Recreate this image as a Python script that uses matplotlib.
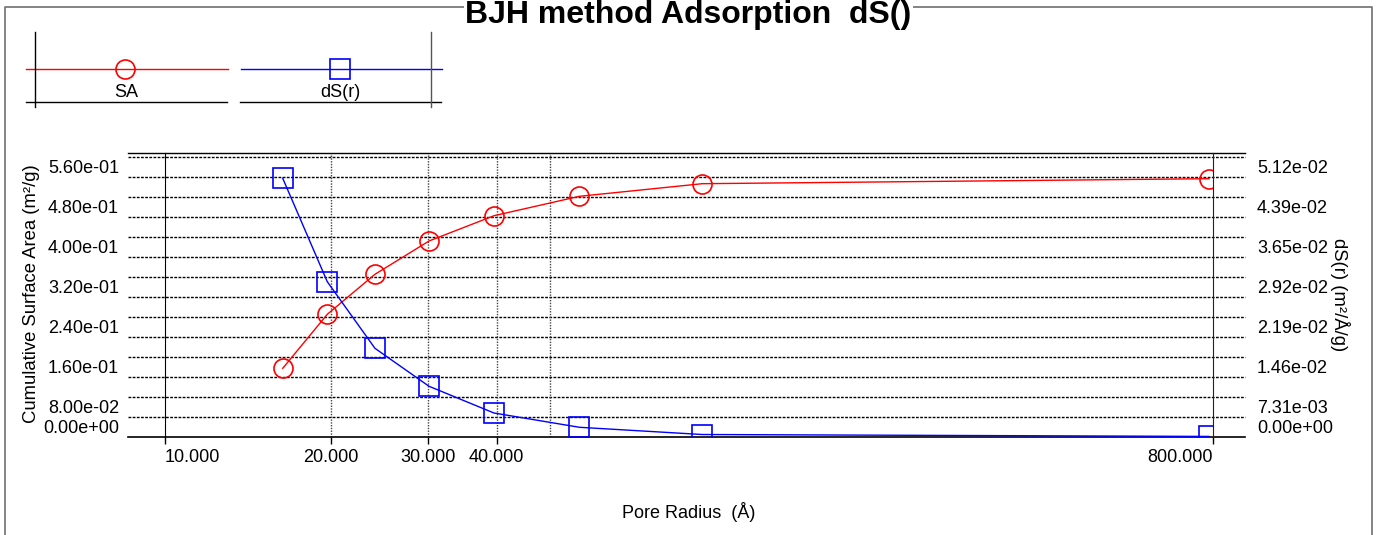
import matplotlib
matplotlib.use('Agg')
import matplotlib.pyplot as plt
from matplotlib.lines import Line2D
from matplotlib.ticker import NullLocator
from matplotlib.transforms import offset_copy

plt.rcParams['font.family'] = ['Liberation Sans', 'DejaVu Sans']

# ---------------- data ----------------
pore_radius = [16.36, 19.71, 24.06, 30.16, 39.58, 56.58, 94.52, 786.6]
cum_sa = [0.1368, 0.2448, 0.3248, 0.3914, 0.4420, 0.4808, 0.5060, 0.5160]
ds_r = [0.04725, 0.02834, 0.01616, 0.00922, 0.00433, 0.00172, 0.00040, 0.00005]

x_ticks = [10, 20, 30, 40, 800]
x_tick_labels = ['10.000', '20.000', '30.000', '40.000', '800.000']
x_grid = [20, 30, 40, 50]

left_ticks = [0.0, 0.08, 0.16, 0.24, 0.32, 0.40, 0.48, 0.56]
left_tick_labels = ['0.00e+00', '8.00e-02', '1.60e-01', '2.40e-01',
                    '3.20e-01', '4.00e-01', '4.80e-01', '5.60e-01']
right_ticks = [0.0, 0.00731, 0.0146, 0.0219, 0.0292, 0.0365, 0.0439, 0.0512]
right_tick_labels = ['0.00e+00', '7.31e-03', '1.46e-02', '2.19e-02',
                     '2.92e-02', '3.65e-02', '4.39e-02', '5.12e-02']
h_grid = [0.00, 0.04, 0.08, 0.12, 0.16, 0.20, 0.24, 0.28,
          0.32, 0.36, 0.40, 0.44, 0.48, 0.52, 0.56]

title = 'BJH method Adsorption  dS()'
series_names = ['SA', 'dS(r)']

# ---------------- figure ----------------
W, H = 1378, 535
fig = plt.figure(figsize=(W / 100, H / 100), dpi=100)


def fx(px):
    return px / W


def fy(py):
    return 1 - py / H


ax_l, ax_r, ax_t, ax_b = 165, 1213, 152.7, 436.7
ax = fig.add_axes([fx(ax_l), fy(ax_b), fx(ax_r - ax_l), (ax_b - ax_t) / H])
ax.set_xscale('log')
ax.set_xlim(10, 800)
ymax_l = 0.56 * (ax_b - ax_t) / 280.0
ax.set_ylim(0, ymax_l)

ext_l = -(ax_l - 128) / (ax_r - ax_l)
ext_r = 1 + (1245 - ax_r) / (ax_r - ax_l)

# gridlines
for g in h_grid[1:]:
    ax.axhline(g, xmin=ext_l, xmax=ext_r, color='black', lw=1.0,
               ls=(0, (2, 1)), clip_on=False, zorder=1)
ax.axhline(0, xmin=ext_l, xmax=ext_r, color='black', lw=1.2, clip_on=False, zorder=3)
ax.axhline(ymax_l, xmin=ext_l, xmax=ext_r, color='black', lw=1.0, clip_on=False, zorder=3)
for g in x_grid:
    ax.axvline(g, color='#444444', lw=1.0, ls=(0, (1, 1)), zorder=1)

for s in ['top', 'bottom', 'right']:
    ax.spines[s].set_visible(False)
ax.spines['left'].set_color('black')

ax.xaxis.set_minor_locator(NullLocator())
ax.set_xticks(x_ticks)
ax.set_xticklabels(x_tick_labels)
ax.tick_params(axis='x', direction='out', length=5, width=1, pad=4.0,
               labelsize=13, color='black')
xl = ax.get_xticklabels()
xl[0].set_ha('left')
xl[-1].set_ha('right')

ax.set_yticks([])
ax.plot(pore_radius, cum_sa, color='red', lw=1.0, marker='o', ms=13.7,
        mfc='none', mec='red', mew=1.2, zorder=4)

ax2 = ax.twinx()
ymax_r = 0.0512 * (ax_b - ax_t) / 280.0
ax2.set_ylim(0, ymax_r)
for s in ['top', 'bottom', 'left']:
    ax2.spines[s].set_visible(False)
ax2.spines['right'].set_color('#222222')
ax2.set_yticks([])
ax2.plot(pore_radius, ds_r, color='blue', lw=1.0, marker='s', ms=13.7,
         mfc='none', mec='blue', mew=1.2, zorder=4)

# y tick labels (drawn below their grid line, the zero label above the axis)
for i, (v, t) in enumerate(zip(left_ticks, left_tick_labels)):
    dy = 8.5 if i == 0 else -11.5
    tr = offset_copy(ax.get_yaxis_transform(), fig=fig, x=-46, y=dy, units='dots')
    ax.text(0, v, t, transform=tr, ha='right', va='center', fontsize=13)
for i, (v, t) in enumerate(zip(right_ticks, right_tick_labels)):
    dy = 8.5 if i == 0 else -11.5
    tr = offset_copy(ax2.get_yaxis_transform(), fig=fig, x=44, y=dy, units='dots')
    ax2.text(1, v, t, transform=tr, ha='left', va='center', fontsize=13)

# axis labels
fig.text(fx(32), fy(294), 'Cumulative Surface Area (m²/g)', rotation=90,
         ha='center', va='center', fontsize=13.3)
fig.text(fx(1340), fy(295), 'dS(r) (m²/Å/g)', rotation=270,
         ha='center', va='center', fontsize=13.3)
fig.text(fx(689), fy(511.7), 'Pore Radius  (Å)', ha='center', va='center', fontsize=13)

# outer frame
frame_col = '#707070'
fig.add_artist(Line2D([fx(5), fx(5), fx(1372), fx(1372)],
                      [fy(535), fy(7), fy(7), fy(535)],
                      transform=fig.transFigure, color=frame_col, lw=1.2))
fig.text(fx(688.5), fy(23), title, ha='center', va='baseline', fontsize=23,
         fontweight='bold',
         bbox=dict(boxstyle='square,pad=0.05', fc='white', ec='none'))

# legend
leg_y = 69
fig.add_artist(Line2D([fx(26), fx(228)], [fy(leg_y), fy(leg_y)],
                      transform=fig.transFigure, color='red', lw=1.0))
fig.add_artist(Line2D([fx(125)], [fy(leg_y)], transform=fig.transFigure,
                      marker='o', ms=13.7, mfc='none', mec='red', mew=1.2, ls='none'))
fig.add_artist(Line2D([fx(241), fx(442)], [fy(leg_y), fy(leg_y)],
                      transform=fig.transFigure, color='blue', lw=1.0))
fig.add_artist(Line2D([fx(340)], [fy(leg_y)], transform=fig.transFigure,
                      marker='s', ms=13.7, mfc='none', mec='blue', mew=1.2, ls='none'))
for x0, x1 in [(26, 227), (240, 441)]:
    fig.add_artist(Line2D([fx(x0), fx(x1)], [fy(102), fy(102)],
                          transform=fig.transFigure, color='black', lw=1.0))
fig.add_artist(Line2D([fx(35), fx(35)], [fy(32), fy(107)],
                      transform=fig.transFigure, color='black', lw=1.0))
fig.add_artist(Line2D([fx(431), fx(431)], [fy(32), fy(107)],
                      transform=fig.transFigure, color='#555555', lw=1.0))
fig.text(fx(126), fy(92.5), series_names[0], ha='center', va='center', fontsize=13)
fig.text(fx(340), fy(92.5), series_names[1], ha='center', va='center', fontsize=13)

fig.savefig('out.png', dpi=100)
